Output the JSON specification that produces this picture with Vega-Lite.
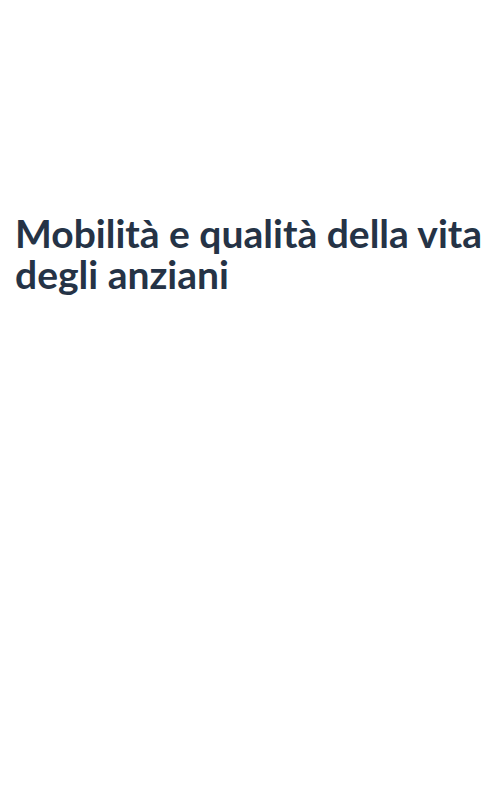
{
  "$schema": "https://vega.github.io/schema/vega-lite/v6.json",
  "width": 500,
  "height": 800,
  "autosize": {"type": "fit", "contains": "padding"},
  "padding": {"top": 217, "left": 15, "right": 0, "bottom": 0},
  "background": "white",
  "config": {"view": {"stroke": null}},
  "title": {
    "text": ["Mobilità e qualità della vita", "degli anziani"],
    "anchor": "start",
    "frame": "bounds",
    "font": "Lato",
    "fontSize": 39,
    "fontWeight": 700,
    "lineHeight": 41,
    "color": "#253346",
    "offset": 0
  },
  "data": {"values": []},
  "mark": "text",
  "encoding": {}
}
